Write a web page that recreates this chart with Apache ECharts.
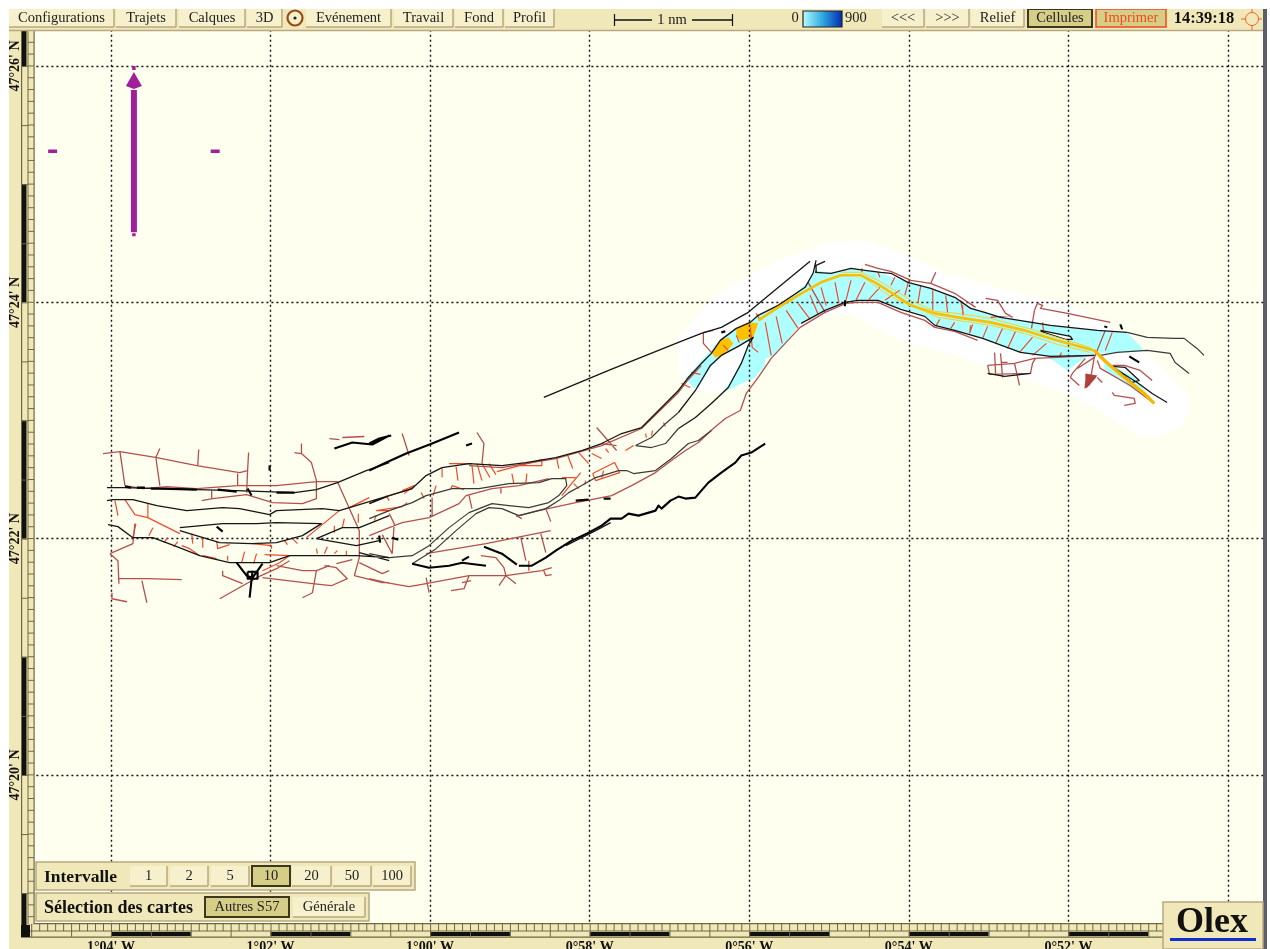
<!DOCTYPE html>
<html><head><meta charset="utf-8"><title>Olex</title>
<style>html,body{margin:0;padding:0;background:#fff}#c{width:1270px;height:949px}#c canvas{filter:blur(0.4px)}</style>
<script src="https://cdn.jsdelivr.net/npm/echarts@6/dist/echarts.min.js"></script></head>
<body><div id="c"></div>
<script>
// Units: x = 1/80 minute of longitude east of 1°04'W ; y = 1/118 minute of latitude south of 47°26'N
const lonLabels = ["1°04' W","1°02' W","1°00' W","0°58' W","0°56' W","0°54' W","0°52' W","0°50' W"];
const latLabels = ["47°26' N","47°24' N","47°22' N","47°20' N"];

const haloArea = [[569,271],[609,227],[669,194],[722,176],[756,174],[802,191],[836,207],[869,216],[916,229],[959,237],[999,257],[1036,284],[1079,327],[1082,344],[1072,361],[1049,371],[1026,367],[996,347],[959,327],[899,307],[849,289],[802,277],[776,267],[742,247],[719,249],[686,267],[662,289],[642,314],[636,317],[602,326],[582,321],[569,307]];
const cyanArea = [[576,312],[604,281],[612,272],[639,256],[649,249],[676,236],[699,216],[706,204],[726,207],[742,202],[769,206],[799,216],[822,222],[846,231],[862,242],[892,251],[942,259],[989,264],[1019,266],[1036,284],[1009,286],[992,287],[982,289],[977,291],[959,304],[939,290],[912,286],[874,272],[846,264],[826,259],[816,249],[792,242],[769,234],[749,234],[736,236],[716,244],[692,257],[666,289],[656,292],[656,299],[646,311],[639,314],[614,326],[632,297],[639,279],[646,271],[629,279],[612,289],[601,301],[589,321],[584,321]];
const cyanTail = [[996,294],[1026,311],[1046,336],[1039,332],[1016,317],[996,304]];
const orangeA = [[602,286],[611,274],[619,271],[624,277],[614,289],[606,291]];
const orangeB = [[627,262],[639,256],[649,257],[644,271],[631,274],[627,269]];
const brickBlob = [[977,307],[989,309],[987,312],[979,321],[976,322],[977,314]];
const islandWhite = [[932,264],[962,270],[964,273],[957,273],[932,265]];
const arrowHead = [[23,6],[31,20],[23,23],[15,20]];

const trackMain = [[[649,254],[669,241],[689,229],[712,216],[732,209],[752,209],[766,216],[782,226],[802,239],[826,247],[849,251],[882,256],[916,264],[949,274],[986,284]]];
const trackTail = [[[986,284],[996,294],[1016,311],[1036,327],[1046,337]]];
const trackThin = [
 [[732,206],[752,206],[769,214],[786,224],[802,234],[826,245],[849,247],[882,252],[916,261],[949,271],[982,281]],
 [[756,212],[772,224],[789,234],[809,242],[829,251],[849,254],[882,259],[916,267],[949,278],[982,286]]
];

const blackThick = [
 [[259,404],[276,396],[296,387],[322,377],[349,366]],
 [[259,377],[269,372],[281,369]],
 [[51,422],[86,423]],[[107,423],[126,425]],[[166,426],[184,426]],[[14,420],[20,421]],[[26,421],[34,421]],[[40,422],[51,422]],
 [[656,377],[642,386],[632,389],[626,396],[612,406],[599,416],[592,424],[586,431],[576,432],[569,430],[561,434],[552,442],[549,439],[546,444],[529,449],[519,447],[512,452],[501,452],[492,459],[477,467],[462,474],[446,484],[436,491],[422,499],[409,499]],
 [[466,434],[479,433]],[[494,432],[501,432]],
 [[374,480],[392,487],[407,498]],
 [[302,497],[319,501],[339,499],[352,496],[376,499]],[[352,494],[359,490]],
 [[126,496],[136,509],[142,511],[152,497]],[[142,504],[139,531]],[[137,505],[147,505],[147,512],[137,512],[137,505]],
 [[137,422],[141,429]],[[159,399],[159,404]],
 [[356,379],[362,377]],[[282,471],[288,473]],[[269,469],[270,476]],
 [[224,382],[242,376],[262,378],[279,369]],
 [[106,460],[112,465]],[[612,266],[616,265]],[[736,234],[736,240]],
 [[1012,258],[1014,263]],[[1021,290],[1031,296]],[[996,260],[999,261]]
];
const blackLines = [
 [[434,331],[499,304],[569,276],[592,267],[612,261],[639,246],[662,227],[701,195]],
 [[259,437],[279,429],[302,422],[316,409],[332,401],[359,397],[392,399],[416,396],[446,391],[472,384],[492,377],[512,367],[532,361],[539,354],[569,324],[579,311],[592,297],[602,287],[611,274],[627,262],[641,256],[649,249],[669,239],[696,221],[704,207],[707,194]],
 [[707,206],[707,199],[716,195]],
 [[706,206],[722,207],[742,202],[756,204],[772,206],[782,207],[799,216],[822,222],[846,231],[862,242],[876,246],[892,251],[942,259],[989,264],[1019,266]],
 [[569,346],[586,324],[601,299],[612,289],[629,280],[644,271],[646,271],[639,279],[632,297],[619,321],[602,337],[586,351],[569,362]],
 [[692,257],[716,244],[736,236],[749,234],[769,234],[792,243],[816,250],[826,259],[846,264],[874,272],[912,286],[942,290],[986,289]],
 [[-4,421],[14,421],[49,422],[86,423],[126,424],[184,426],[206,423],[227,416],[256,404],[279,396]],
 [[-4,434],[2,433],[22,433],[46,439],[76,444],[112,441],[129,442],[159,448],[166,444],[212,442],[229,444],[279,429]],
 [[69,461],[112,457],[146,457],[166,456],[211,457],[192,469],[166,476],[141,477],[109,476],[69,464]],
 [[-3,458],[7,460],[22,471],[42,471],[66,480],[89,489],[119,496],[159,496],[179,489],[246,489],[279,491]],
 [[206,472],[246,479],[269,474],[269,469]],
 [[206,472],[232,461],[249,461],[279,449]],
 [[249,486],[279,494]],
 [[879,307],[896,310],[922,307]],
 [[501,456],[486,464],[472,471],[456,479]],
 [[992,289],[1002,299],[1029,316],[1044,327],[1059,336]],
 [[1004,300],[1017,301],[1031,314],[1024,316],[1004,300]],
 [[932,264],[962,270],[964,273],[957,273],[932,265]]
];
const greyLines = [
 [[259,452],[279,444],[302,436],[316,429],[342,422],[369,422],[399,417],[429,416],[442,412],[456,412],[457,419],[449,429],[439,436],[419,441],[399,439],[382,437],[359,446],[339,461],[319,479],[302,489],[279,491],[259,487]],
 [[569,346],[555,358],[542,371],[526,379]],
 [[569,362],[556,377],[542,381],[526,379]],
 [[602,364],[589,374],[579,377],[562,392],[546,404],[524,407],[517,404],[509,404],[486,411],[472,419],[459,426],[449,434],[436,442],[409,449],[392,442],[379,441],[366,447],[346,464],[326,482],[302,497]],
 [[1019,266],[1039,271],[1066,272],[1076,272],[1089,282],[1096,289]],
 [[992,289],[1009,286],[1039,284],[1062,287],[1067,296],[1081,307]]
];
const brickLines = [
 [[-8,387],[9,385],[46,391],[86,399],[129,406],[137,404]],
 [[9,385],[14,419]],[[49,382],[45,391],[49,419]],[[88,383],[87,399]],
 [[138,386],[137,404],[136,426]],[[127,407],[127,419]],
 [[14,419],[32,422],[56,420],[86,422],[127,419],[166,419],[206,415],[227,415]],
 [[91,434],[102,432],[136,428],[162,436],[192,437],[206,432],[206,414],[201,396],[191,387],[191,377]],
 [[184,386],[191,387]],[[101,424],[101,432]],[[219,372],[229,373]],[[232,371],[254,370]],
 [[227,415],[249,464],[249,491],[244,509]],
 [[249,496],[272,507],[279,504]],[[244,509],[272,516],[279,516]],[[226,497],[242,493]],
 [[-1,487],[22,477],[24,457]],[[-1,487],[7,494],[8,517]],
 [[7,512],[36,512],[71,513]],[[31,514],[36,536]],[[1,526],[1,532],[16,535]],
 [[109,532],[141,514],[146,511],[166,502],[179,494]],
 [[112,504],[112,509],[132,517]],
 [[152,511],[202,517],[221,519],[237,512],[226,501],[214,499]],
 [[166,499],[192,504],[206,504],[219,499]],
 [[206,504],[202,526],[192,531]],
 [[316,487],[376,477],[441,464]],[[411,471],[416,494]],[[431,467],[436,486]],[[419,494],[419,504]],
 [[259,512],[276,516],[299,520],[316,517],[359,509],[396,509],[432,504],[442,501]],
 [[316,511],[319,526]],
 [[371,489],[386,491],[394,501],[396,509],[406,517]],[[396,509],[389,519]],
 [[359,509],[354,522],[341,524]],[[352,516],[361,514]],[[434,504],[436,509],[442,508]],
 [[322,431],[322,449]],
 [[259,469],[279,461],[292,456],[319,451],[349,437],[356,429],[382,422],[409,419],[439,412]],
 [[359,429],[362,442]],[[391,422],[391,427]],
 [[279,447],[284,457],[282,487]],[[272,468],[282,487]],
 [[292,367],[299,389]],[[367,366],[374,377],[372,397]],[[487,361],[507,384]],[[492,377],[507,379]],
 [[259,437],[279,429],[302,422]],[[359,399],[392,401],[446,392],[492,379],[532,362],[569,326],[579,313],[592,299]],
 [[429,444],[466,436],[502,429],[522,419],[546,406],[562,394],[576,384],[589,376],[604,362],[616,352],[631,344],[637,327],[649,311],[662,292],[691,261],[716,246],[737,237],[749,236],[769,236],[792,246],[816,254],[826,261],[846,265],[869,274]],
 [[409,449],[429,444]],[[406,449],[412,452]],[[436,442],[441,455]],
 [[699,216],[716,246]],
 [[756,198],[769,202],[782,205],[802,214],[822,217],[846,227],[867,241]],
 [[827,206],[822,217]],
 [[594,266],[594,277],[602,286]],[[594,266],[604,264]],
 [[877,232],[889,234],[897,247],[904,251]],[[882,251],[902,249]],
 [[926,244],[929,237],[934,239],[932,242],[959,247],[1002,256]],[[926,244],[923,262]],
 [[997,264],[986,291]],
 [[879,299],[906,297],[926,292],[949,291],[986,289]],
 [[879,299],[881,308],[922,307],[924,297],[927,292]],
 [[886,286],[887,307]],[[892,287],[894,311]],[[892,296],[899,296]],[[906,297],[911,319]],
 [[986,291],[969,302]],[[977,292],[964,307],[962,311],[971,319]],[[986,291],[981,319]],
 [[989,311],[994,316]],
 [[1004,299],[1016,299],[1032,304],[1044,314]],
 [[989,294],[992,302],[1022,319],[1046,337]],
 [[1004,326],[1006,329],[1026,332],[1027,337],[1016,339]]
];
const redHatch = [
 [[339,397],[362,397]],[[332,402],[332,411]],[[346,400],[348,414]],[[362,399],[364,417]],[[367,397],[372,414]],[[372,397],[380,411]],[[379,397],[386,408]],
 [[387,405],[432,393],[432,399],[409,399]],[[402,407],[404,417]],[[417,407],[416,416]],[[447,392],[449,402]],[[458,389],[463,402]],[[469,386],[479,397]],[[482,387],[492,392]],[[496,382],[499,386]],
 [[452,411],[466,411]],[[471,406],[452,429]],[[464,417],[469,422]],[[476,414],[475,418]],
 [[483,407],[505,396],[510,406],[486,414],[483,407]],[[494,404],[492,411]],
 [[516,384],[524,379]],[[536,367],[537,371]],[[543,364],[542,369]],[[554,356],[556,360]],
 [[326,419],[323,429]],[[311,426],[314,432]],[[342,419],[354,423]],[[342,419],[341,422]],[[292,424],[304,419],[294,427]],[[276,429],[279,434]],[[266,444],[292,440],[297,436]],
 [[4,434],[7,449]],[[14,433],[24,448],[37,451],[69,467]],[[37,437],[37,451]],[[25,457],[22,471]],[[42,461],[38,469]],[[81,467],[82,477]],[[92,471],[92,481]],[[106,475],[107,482],[119,478]],[[57,471],[53,476]],[[67,475],[63,480]],[[71,479],[79,482],[89,489]],[[92,489],[106,492]],[[117,489],[117,494]],[[134,485],[131,496]],[[146,487],[143,497]],[[142,477],[161,479],[161,482]],[[154,488],[179,489],[169,496],[152,504]],[[174,474],[177,478]],[[181,471],[187,477]],[[196,471],[229,444]],[[224,459],[224,466]],[[234,452],[232,461]],[[248,447],[248,456]],[[266,449],[264,454]],[[266,444],[279,444]],[[206,482],[207,487]],[[217,480],[214,487]],[[227,484],[224,487]],[[236,484],[236,489]],[[259,431],[239,441]],
 [[656,256],[662,289]],[[667,250],[673,277]],[[677,244],[689,262]],[[689,237],[701,253]],[[701,229],[709,248]],[[712,221],[717,239]],[[726,216],[730,237]],[[742,214],[737,234]],[[756,216],[747,234]],[[771,221],[760,233]],[[769,206],[771,211]],[[753,202],[753,206]],[[786,211],[782,219]],[[800,214],[796,229]],[[791,224],[776,234]],[[812,219],[809,237]],[[824,224],[824,244]],[[837,229],[839,247]],[[852,234],[855,249]],[[831,253],[827,260]],[[846,256],[842,262]],[[864,258],[861,267]],
 [[627,269],[630,276]],[[614,279],[619,284]],[[641,261],[643,281],[649,286]],[[647,247],[651,254]],[[582,306],[591,308]],[[572,317],[581,321]],
 [[934,256],[935,264]],[[1004,266],[997,284]],[[862,259],[861,267]],[[879,260],[874,272]],[[894,262],[887,277]],[[907,265],[899,282]],[[924,271],[911,286]],[[938,277],[924,289]],[[953,286],[951,291]],[[854,239],[854,249]]
];
const northShaft = [[[23,24],[23,166]]];
const northMarks = [[[23,0],[23,4]],[[23,167],[23,170]],[[-63,85],[-54,85]],[[100,85],[109,85]]];

const toolbarLeft = ["Configurations","Trajets","Calques","3D","Evénement","Travail","Fond","Profil"];
const toolbarLeftEdges = [[9,114],[116,176],[179,245],[247,282],[306,391],[394,453],[455,503],[505,554]];
const toolbarRight = ["<<<",">>>","Relief","Cellules","Imprimer"];
const toolbarRightEdges = [[882,924],[926,969],[971,1024],[1028,1092],[1096,1166]];
const intervalLabels = ["1","2","5","10","20","50","100"];
const intervalEdges = [[130,167],[170,208],[211,249],[252,290],[292,331],[333,371],[373,411]];
const chartLabels = ["Autres S57","Générale"];
const chartEdges = [[205,289],[293,365]];

const SAND='#F0E8B8', LITE='#F6F0CC', EDGE='#B8A880', ACTIVE='#D6CE86', SERIF='"Liberation Serif","DejaVu Serif",serif';
const PZ=100, TOP=PZ+165, OLEX=PZ+300;
function rect(x0,y0,x1,y1,fill,stroke,lw,z){return {type:'rect',z:z||PZ,silent:true,shape:{x:x0,y:y0,width:x1-x0,height:y1-y0},style:{fill:fill,stroke:stroke||null,lineWidth:lw||0}};}
function txt(x,y,t,font,fill,align,z){return {type:'text',z:z||PZ+2,silent:true,x:x,y:y,style:{text:t,font:font,fill:fill||'#222',textAlign:align||'center',textVerticalAlign:'middle'}};}
function lineG(x0,y0,x1,y1,c,w,z){return {type:'line',z:z||PZ+2,silent:true,shape:{x1:x0,y1:y0,x2:x1,y2:y1},style:{stroke:c,lineWidth:w}};}
function button(x0,y0,x1,y1,label,active,red,base){
  const z=base, out=[];
  if(active){
    out.push(rect(x0,y0,x1,y1,ACTIVE,red?'#F04A20':'#3C3820',red?1.5:2,z));
  } else {
    out.push(rect(x0,y0,x1,y1,LITE,null,0,z));
    out.push(lineG(x0,y1,x1,y1,EDGE,1.5,z));
    out.push(lineG(x1,y0,x1,y1,EDGE,1.5,z));
  }
  out.push(txt((x0+x1)/2,(y0+y1)/2,label,'14.5px '+SERIF,red?'#F04A20':'#222','center',z+1));
  return out;
}
const panels=[];
panels.push(rect(0,0,1270,9,'#ffffff',null,0,PZ+270));
panels.push(rect(0,0,9,949,'#ffffff',null,0,PZ+270));
panels.push(rect(1267,0,1270,949,'#ffffff',null,0,PZ+270));
panels.push(rect(1263,9,1267,949,'#59606C',null,0,PZ+269));
panels.push(rect(9,9,1263,30,SAND,null,0,TOP-1));
panels.push(lineG(9,30.5,1263,30.5,EDGE,1.5,TOP-1));
panels.push(rect(9,30,21,949,SAND));
panels.push(rect(9,937,1263,949,SAND));
toolbarLeft.forEach((t,i)=>panels.push(...button(toolbarLeftEdges[i][0],9,toolbarLeftEdges[i][1],27,t,false,false,TOP)));
toolbarRight.forEach((t,i)=>panels.push(...button(toolbarRightEdges[i][0],9,toolbarRightEdges[i][1],27,t,i>=3,i===4,TOP)));
panels.push({type:'circle',z:TOP+2,silent:true,shape:{cx:295,cy:18,r:7.5},style:{fill:LITE,stroke:'#9A4A14',lineWidth:2.2}});
panels.push({type:'circle',z:TOP+3,silent:true,shape:{cx:295,cy:18,r:1.6},style:{fill:'#222'}});
panels.push(lineG(614,20,652,20,'#111',1.5,TOP),lineG(692,20,732,20,'#111',1.5,TOP),lineG(614.5,14,614.5,26,'#111',1.2,TOP),lineG(732.5,14,732.5,26,'#111',1.2,TOP));
panels.push(txt(672,20,'1 nm','14.5px '+SERIF,'#222','center',TOP));
panels.push(txt(795,18,'0','14.5px '+SERIF,'#222','center',TOP));
panels.push({type:'rect',z:TOP,silent:true,shape:{x:803,y:11,width:39,height:16},style:{stroke:'#222',lineWidth:1.2,fill:{type:'linear',x:0,y:0,x2:1,y2:0,colorStops:[{offset:0,color:'#B8FFFF'},{offset:0.5,color:'#30A8E0'},{offset:1,color:'#0028B0'}]}}});
panels.push(txt(845,18,'900','14.5px '+SERIF,'#222','left',TOP));
panels.push(txt(1204,19,'14:39:18','bold 16.5px '+SERIF,'#111','center',TOP));
panels.push({type:'circle',z:TOP,silent:true,shape:{cx:1252,cy:19,r:6.5},style:{fill:null,stroke:'#F06030',lineWidth:1}});
panels.push(lineG(1241,19,1245,19,'#F06030',1,TOP),lineG(1259,19,1262,19,'#F06030',1,TOP),lineG(1252,9,1252,12,'#F06030',1,TOP),lineG(1252,26,1252,30,'#F06030',1,TOP));
panels.push(rect(36,862,415,890,SAND,EDGE,1.5));
panels.push(txt(44,877,'Intervalle','bold 17.5px '+SERIF,'#111','left'));
intervalLabels.forEach((t,i)=>panels.push(...button(intervalEdges[i][0],866,intervalEdges[i][1],886,t,i===3,false,PZ+1)));
panels.push(rect(36,893,369,921,SAND,EDGE,1.5));
panels.push(txt(44,908,'Sélection des cartes','bold 18px '+SERIF,'#111','left'));
chartLabels.forEach((t,i)=>panels.push(...button(chartEdges[i][0],897,chartEdges[i][1],917,t,i===0,false,PZ+1)));
panels.push(rect(1163,902,1263,949,SAND,EDGE,1.5,OLEX));
panels.push(txt(1212,923,'Olex','bold 36px '+SERIF,'#111','center',OLEX+1));
panels.push(rect(1170,938,1256,941,'#1030D0',null,0,OLEX+1));

function polys(list,color,width,z,name){
  const data=[];
  list.forEach((pl,i)=>{ if(i) data.push([null,null]); pl.forEach(p=>data.push(p)); });
  return {type:'line',name,data,xAxisIndex:0,yAxisIndex:0,symbol:'none',showSymbol:false,silent:true,animation:false,connectNulls:false,z:z,
    lineStyle:{color,width,cap:'butt',join:'round'}};
}
function fill(area,color,z,name){
  return {type:'custom',name,xAxisIndex:0,yAxisIndex:0,silent:true,animation:false,z:z,data:[area[0]],
    renderItem(p,api){return {type:'polygon',shape:{points:area.map(q=>api.coord(q))},style:{fill:color}};}};
}
function rulers(){
  return {type:'custom',name:'rulers',xAxisIndex:0,yAxisIndex:0,silent:true,animation:false,z:150,clip:false,data:[[0,0]],
    renderItem(p,api){
      const c=[],D='#6E6840';
      const R=(x,y,w,h,f)=>c.push({type:'rect',shape:{x,y,width:w,height:h},style:{fill:f}});
      const xp=v=>api.coord([v,0])[0], yp=v=>api.coord([0,v])[1];
      R(21,923,1242,14,SAND);
      R(21,923,1242,1.2,D);R(21,930.5,1242,1,D);R(21,936.5,1242,1.2,D);
      for(let v=-80;v<=1280;v+=8){const x=xp(v); if(x>=30&&x<=1263) R(x,923,1,8,D);}
      for(let v=-80;v<=1280;v+=80){
        const x=xp(v);
        if(((v%160)+160)%160===0) R(x,932,xp(v+80)-x,4,'#111');
        if(x>=27) R(x,931,1,6,D);
        R(xp(v+40),931,1,6,D);
      }
      R(21,30,13,894,SAND);
      R(21,30,1.2,907,D);R(27.5,30,1,894,D);R(33.5,30,1.2,894,D);
      for(let v=-36;v<=858;v+=11.8){const y=yp(v); R(28,y,6,1,D);}
      for(let v=-118;v<=826;v+=118){
        const y0=yp(v),y1=yp(v+118);
        if(((v%236)+236)%236!==0){const a=Math.max(y0,30),b=Math.min(y1,937); R(22,a,4.5,b-a,'#111');}
        if(y0>=30) R(21,y0,7,1,D);
        R(21,yp(v+59),7,1,D);
      }
      R(21,925,9,12,'#111');
      return {type:'group',children:c};
    }};
}
const series=[
  fill(haloArea,'#ffffff',1,'halo'),
  fill(cyanArea,'#AEFFFF',1,'channel'),
  fill(cyanTail,'#AEFFFF',1,'tail'),
  fill(orangeA,'#FFC000',1,'cell A'),
  fill(orangeB,'#FFC000',1,'cell B'),
  polys(redHatch,'#F04A2A',1.2,3,'hatch'),
  polys(brickLines,'#B4504C',1.3,4,'roads'),
  fill(brickBlob,'#B0403A',5,'blob'),
  polys(greyLines,'#3A3A3A',1.2,5,'thin banks'),
  polys(blackLines,'#151515',1.3,5,'banks'),
  polys(blackThick,'#000000',2.1,5,'thick'),
  fill(islandWhite,'#ffffff',4,'island'),
  polys(trackThin,'#F6D030',1,6,'track thin'),
  polys(trackMain,'#F8C000',2.6,6,'track'),
  polys(trackTail,'#F8B800',3.2,6,'track tail'),
  polys(northShaft,'#A0209A',6,7,'north'),
  polys(northMarks,'#A0209A',3.5,7,'north marks'),
  fill(arrowHead,'#A0209A',7,'north head'),
  rulers()
];
const axisX={type:'value',min:-160,max:1440,interval:160};
const axisY={type:'value',min:-236,max:944,interval:236,inverse:true};
const dotted={show:true,lineStyle:{color:'#111',width:1.4,type:[2,3]}};
const hide={axisLine:{show:false},axisTick:{show:false}};
const option={
  backgroundColor:'#ffffff',animation:false,
  grid:{show:true,backgroundColor:'#FFFFF0',borderWidth:0,left:-48.6,top:-170.3,width:1595.7,height:1181.6,outerBoundsMode:'none',containLabel:false},
  xAxis:[
    {...axisX,...hide,z:2,splitLine:dotted,axisLabel:{show:false}},
    {...axisX,...hide,z:200,position:'bottom',offset:-81,splitLine:{show:false},
     axisLabel:{show:true,margin:10,verticalAlign:'top',color:'#111',fontFamily:SERIF,fontSize:14,fontWeight:'bold',
       formatter:v=>(v>=0&&v<=960&&lonLabels[v/160])||''}}
  ],
  yAxis:[
    {...axisY,...hide,z:2,splitLine:dotted,axisLabel:{show:false}},
    {...axisY,...hide,z:200,position:'left',offset:-73,splitLine:{show:false},
     axisLabel:{show:true,rotate:90,margin:2,color:'#111',fontFamily:SERIF,fontSize:14,fontWeight:'bold',
       formatter:v=>(v>=0&&v<=708&&latLabels[v/236])||''}}
  ],
  graphic:{elements:panels},
  series
};
const chart=echarts.init(document.getElementById('c'),null,{renderer:'canvas'});
chart.setOption(option);
</script></body></html>
